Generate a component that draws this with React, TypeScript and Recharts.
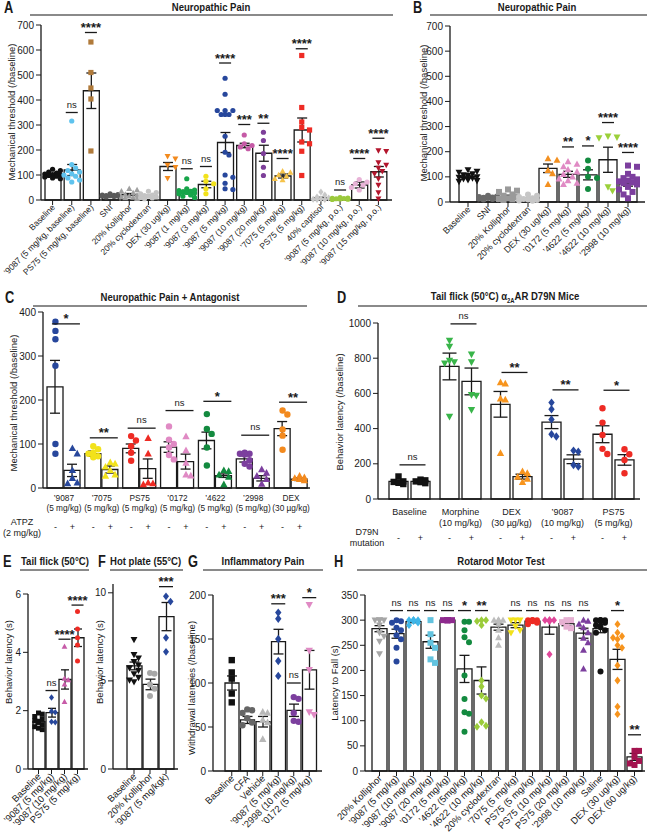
import React from 'react';
import { ComposedChart, Bar, Scatter, XAxis, YAxis, ErrorBar } from 'recharts';

const FONT = '"Liberation Sans", Arial, Helvetica, sans-serif';
const INK = '#1a1a1a';

type Mk = 'circle' | 'square' | 'up' | 'down' | 'diamond';

// ---------- A: Neuropathic Pain ----------
const aCats = ['Baseline', '’9087 (5 mg/kg, baseline)', 'PS75 (5 mg/kg, baseline)', 'SNI', '20% Kolliphor', '20% cyclodextran', 'DEX (30 ug/kg)', '’9087 (1 mg/kg)', '’9087 (3 mg/kg)', '’9087 (5 mg/kg)', '’9087 (10 mg/kg)', '’9087 (20 mg/kg)', '’7075 (5 mg/kg)', 'PS75 (5 mg/kg)', '40% captisol', '’9087 (5 mg/kg, p.o.)', '’9087 (10 mg/kg, p.o.)', '’9087 (15 mg/kg, p.o.)'];
const aMeans = [100, 120, 437, 18, 22, 16, 134, 32, 62, 230, 218, 187, 96, 280, 8, 5, 60, 113];
const aSems = [4, 22, 71, 2, 4, 3, 16, 7, 13, 40, 9, 32, 8, 48, 3, 1, 12, 21];
const aPoints = [
  [123, 118, 112, 108, 104, 102, 100, 98, 95, 92, 88, 85],
  [316, 142, 128, 118, 112, 105, 100, 95, 88, 80, 72],
  [632, 510, 448, 404, 196],
  [25, 22, 20, 19, 18, 17, 16, 15, 14, 12],
  [45, 40, 35, 28, 22, 18, 15, 12, 10, 8, 5],
  [35, 30, 25, 20, 18, 15, 12, 10, 8, 5],
  [175, 165, 140, 131, 87],
  [85, 45, 40, 38, 35, 33, 30, 28, 25, 20, 15, 10],
  [95, 75, 65, 45, 25],
  [487, 423, 358, 358, 358, 342, 342, 342, 255, 191, 180, 100, 91, 67, 45, 42],
  [260, 225, 218, 212, 205],
  [271, 238, 186, 131, 98],
  [115, 110, 100, 95, 85, 80],
  [578, 370, 312, 290, 280, 232, 225, 195, 98],
  [32, 20, 12, 8, 5, 3, 2, 2],
  [10, 8, 7, 6, 5, 4, 3, 2],
  [82, 72, 65, 60, 50, 40],
  [198, 195, 150, 140, 128, 115, 105, 85, 60, 30, 5],
];
const aSig = [null, 'ns', '****', null, null, null, null, 'ns', 'ns', '****', '***', '**', '****', '****', null, 'ns', '****', '****'];
const aSigY = [null, 350, 670, null, null, null, null, 125, 134, 548, 302, 307, 166, 605, null, 40, 166, 247];
const aColors = ['#111111', '#5fc3ee', '#b07a3a', '#5a5a5a', '#a0a0a0', '#c4c4c4', '#f28a1e', '#17a54a', '#f2e21b', '#27479c', '#c55aa6', '#7d3f99', '#f6c34a', '#ee2b24', '#c8c8c8', '#9bc93c', '#e8b3d7', '#b3152c'];
const aMarks: Mk[] = ['circle', 'circle', 'square', 'circle', 'up', 'circle', 'down', 'circle', 'circle', 'circle', 'circle', 'circle', 'up', 'square', 'diamond', 'circle', 'circle', 'down'];

// ---------- B: Neuropathic Pain ----------
const bCats = ['Baseline', 'SNI', '20% Kolliphor', '20% cyclodextran', 'DEX (30 ug/kg)', '’0172 (5 mg/kg)', '’4622 (5 mg/kg)', '’4622 (10 mg/kg)', '’2998 (10 mg/kg)'];
const bMeans = [100, 18, 22, 14, 134, 110, 108, 168, 72];
const bSems = [4, 2, 5, 2, 17, 12, 20, 50, 9];
const bPoints = [
  [128, 122, 118, 112, 108, 105, 100, 98, 95, 92, 88, 85, 82],
  [25, 22, 20, 18, 17, 16, 15, 14, 12, 10],
  [50, 45, 40, 30, 25, 20, 15, 12, 10, 8],
  [30, 25, 20, 15, 12, 10, 8, 6, 5],
  [172, 166, 125, 113, 70],
  [160, 150, 140, 128, 120, 110, 100, 92, 85, 75, 70],
  [165, 132, 100, 95, 52],
  [262, 258, 255, 60, 45],
  [145, 140, 112, 100, 95, 90, 85, 82, 78, 75, 70, 60, 50, 40, 30, 15],
];
const bSig = [null, null, null, null, null, '**', '*', '****', '****'];
const bSigY = [null, null, null, null, null, 219, 223, 316, 197];
const bColors = ['#111111', '#6a6a6a', '#9a9a9a', '#c6c6c6', '#f39020', '#e08ac4', '#138a3f', '#9bd03a', '#7c3f9e'];
const bMarks: Mk[] = ['down', 'circle', 'square', 'circle', 'up', 'up', 'circle', 'down', 'square'];

// ---------- C: Neuropathic Pain + Antagonist ----------
const cCats = ['’9087\n(5 mg/kg)', '’7075\n(5 mg/kg)', 'PS75\n(5 mg/kg)', '’0172\n(5 mg/kg)', '’4622\n(5 mg/kg)', '’2998\n(5 mg/kg)', 'DEX\n(30 µg/kg)'];
const cNegMeans = [230, 78, 90, 93, 108, 66, 135];
const cNegSems = [60, 6, 10, 12, 19, 7, 16];
const cPosMeans = [40, 42, 44, 60, 28, 22, 20];
const cPosSems = [14, 8, 22, 17, 4, 6, 3];
const cNegPoints = [
  [378, 357, 338, 278, 100, 78],
  [95, 88, 80, 78, 72, 70],
  [118, 108, 95, 80, 62],
  [140, 110, 100, 92, 75, 65],
  [168, 134, 123, 92, 51],
  [80, 78, 78, 76, 63, 55, 49],
  [176, 167, 133, 119, 87],
];
const cPosPoints = [
  [90, 78, 40, 22, 12, 10],
  [58, 55, 48, 40, 30, 27],
  [113, 78, 12, 10, 8],
  [117, 85, 57, 30, 28],
  [40, 38, 30, 25, 8],
  [42, 34, 27, 20, 9],
  [27, 24, 22, 20, 17],
];
const cSig = ['*', '**', 'ns', 'ns', '*', 'ns', '**'];
const cSigY = [373, 114, 136, 176, 197, 120, 195];
const cColors = ['#27479c', '#f2e21b', '#ee2b24', '#e08ac4', '#138a3f', '#7c3f9e', '#f38a1e'];
const cNegMarks: Mk[] = ['circle', 'circle', 'circle', 'circle', 'circle', 'circle', 'circle'];
const cPosMarks: Mk[] = ['up', 'up', 'up', 'up', 'up', 'up', 'up'];

// ---------- D: Tail flick a2AAR D79N ----------
const dCats = ['Baseline', 'Morphine\n(10 mg/kg)', 'DEX\n(30 µg/kg)', '’9087\n(10 mg/kg)', 'PS75\n(5 mg/kg)'];
const dNegMeans = [100, 753, 538, 437, 368];
const dNegSems = [8, 76, 73, 37, 48];
const dPosMeans = [100, 668, 127, 226, 222];
const dPosSems = [4, 76, 14, 25, 30];
const dNegPoints = [
  [128, 100, 97, 92, 85],
  [901, 867, 787, 778, 772, 469],
  [662, 655, 569, 564, 260],
  [548, 510, 452, 368, 355],
  [516, 434, 364, 285, 256],
];
const dPosPoints = [
  [110, 106, 100, 96, 90],
  [823, 778, 592, 588, 507],
  [156, 146, 125, 114, 95],
  [275, 269, 193, 184],
  [283, 254, 222, 146],
];
const dSig = ['ns', 'ns', '**', '**', '*'];
const dSigY = [194, 995, 719, 620, 618];
const dColors = ['#111111', '#39b54a', '#f7941d', '#27479c', '#ee2b24'];
const dMarks: Mk[] = ['square', 'down', 'up', 'diamond', 'circle'];

// ---------- E: Tail flick (50°C) ----------
const eCats = ['Baseline', '’9087 (5 mg/kg)', '’9087 (10 mg/kg)', 'PS75 (5 mg/kg)'];
const eMeans = [1.62, 1.93, 3.07, 4.5];
const eSems = [0.08, 0.15, 0.33, 0.3];
const ePoints = [
  [1.92, 1.88, 1.8, 1.72, 1.65, 1.6, 1.52, 1.45, 1.4, 1.35],
  [2.45, 1.98, 1.95, 1.62, 1.6],
  [4.2, 3.1, 3.05, 2.9, 2.3],
  [5.4, 4.8, 4.5, 4.25, 3.7],
];
const eSig = [null, 'ns', '****', '****'];
const eSigY = [null, 2.69, 4.45, 5.62];
const eColors = ['#111111', '#27479c', '#c75ba8', '#ee2b24'];
const eMarks: Mk[] = ['square', 'diamond', 'up', 'circle'];

// ---------- F: Hot plate (55°C) ----------
const fCats = ['Baseline', '20% Kolliphor', '’9087 (5 mg/kgk)'];
const fMeans = [5.85, 4.8, 8.65];
const fSems = [0.22, 0.3, 0.8];
const fPoints = [
  [7.35, 6.5, 6.3, 6.1, 5.9, 5.75, 5.6, 5.4, 5.2, 5.05, 4.95],
  [5.45, 5.4, 4.8, 4.55, 4.15],
  [9.8, 9.5, 7.45, 6.65],
];
const fSig = [null, null, '***'];
const fSigY = [null, null, 10.35];
const fColors = ['#111111', '#a8a8a8', '#27479c'];
const fMarks: Mk[] = ['down', 'circle', 'diamond'];

// ---------- G: Inflammatory Pain ----------
const gCats = ['Baseline', 'CFA', 'Vehicle', '’9087 (5 mg/kg)', '’2998 (10 mg/kg)', '’0172 (5 mg/kg)'];
const gMeans = [100, 58, 56, 147, 69, 115];
const gSems = [8, 4, 6, 14, 7, 22];
const gPoints = [
  [126, 112, 105, 88, 78],
  [70, 69, 66, 60, 55, 52],
  [67, 66, 58, 55, 36],
  [180, 173, 150, 125, 108],
  [84, 82, 66, 57, 56],
  [189, 137, 115, 67, 64],
];
const gSig = [null, null, null, '***', 'ns', '*'];
const gSigY = [null, null, null, 190, 100, 197];
const gColors = ['#111111', '#666666', '#b8b8b8', '#27479c', '#7c3f9e', '#e08ac4'];
const gMarks: Mk[] = ['square', 'circle', 'up', 'diamond', 'circle', 'down'];

// ---------- H: Rotarod Motor Test ----------
const hCats = ['20% Kolliphor', '’9087 (5 mg/kg)', '’9087 (10 mg/kg)', '’9087 (20 mg/kg)', '’0172 (5 mg/kg)', '’4622 (5mg/kg)', '’4622 (10 mg/kg)', '20% cyclodextran', '’7075 (5 mg/kg)', 'PS75 (5 mg/kg)', 'PS75 (10 mg/kg)', 'PS75 (20 mg/kg)', '’2998 (10 mg/kg)', 'Saline', 'DEX (30 ug/kg)', 'DEX (60 ug/kg)'];
const hMeans = [283, 273, 297, 257, 300, 203, 180, 286, 290, 298, 286, 293, 274, 283, 222, 28];
const hSems = [6, 9, 2, 13, 0.5, 27, 27, 6, 5, 1, 14, 4, 10, 8, 20, 7];
const hPoints = [
  [300, 300, 300, 300, 300, 290, 275, 268, 258, 233],
  [300, 298, 295, 285, 280, 270, 262, 245, 218],
  [300, 300, 300, 300, 300, 298, 295, 290],
  [300, 272, 255, 245, 222, 215],
  [300, 300, 300, 300, 300, 300, 300, 300],
  [297, 297, 280, 266, 256, 190, 143, 117, 114, 78],
  [300, 300, 298, 290, 180, 168, 150, 144, 97, 90, 88],
  [300, 300, 300, 300, 300, 300, 292, 280, 265, 250],
  [300, 300, 300, 288, 280, 275],
  [300, 300, 300, 300, 300, 298, 295, 292],
  [300, 300, 300, 300, 298, 232],
  [300, 300, 296, 287, 284],
  [300, 298, 292, 285, 275, 264, 255, 240, 203],
  [300, 300, 300, 300, 300, 298, 295, 290, 286, 280, 275, 198],
  [292, 275, 268, 265, 262, 250, 245, 210, 180, 128, 113],
  [40, 40, 28, 20, 15, 12],
];
const hSig = [null, 'ns', 'ns', 'ns', 'ns', '*', '**', null, 'ns', 'ns', 'ns', 'ns', 'ns', null, '*', '**'];
const hSigY = [null, 319, 319, 319, 319, 319, 319, null, 319, 319, 319, 319, 319, null, 319, 72];
const hColors = ['#a6a6a6', '#27479c', '#3fb6e8', '#62c3df', '#8e2a8e', '#138a3f', '#9bcc3a', '#bdbdbd', '#f2e21b', '#ee2b24', '#e0479a', '#e6b0d2', '#7c3f9e', '#111111', '#f7941d', '#a3134f'];
const hMarks: Mk[] = ['down', 'circle', 'diamond', 'square', 'square', 'circle', 'diamond', 'up', 'down', 'circle', 'diamond', 'square', 'up', 'circle', 'diamond', 'square'];

// ---------- drawing helpers ----------
const drawMark = (m: Mk, cx: number, cy: number, r: number, fill: string) => {
  switch (m) {
    case 'square':
      return <rect x={cx - r} y={cy - r} width={2 * r} height={2 * r} fill={fill} />;
    case 'up':
      return <polygon points={`${cx},${cy - r * 1.25} ${cx + r * 1.15},${cy + r * 0.85} ${cx - r * 1.15},${cy + r * 0.85}`} fill={fill} />;
    case 'down':
      return <polygon points={`${cx},${cy + r * 1.25} ${cx + r * 1.15},${cy - r * 0.85} ${cx - r * 1.15},${cy - r * 0.85}`} fill={fill} />;
    case 'diamond':
      return <polygon points={`${cx},${cy - r * 1.3} ${cx + r},${cy} ${cx},${cy + r * 1.3} ${cx - r},${cy}`} fill={fill} />;
    default:
      return <circle cx={cx} cy={cy} r={r} fill={fill} />;
  }
};

// simple beeswarm: spread points sideways so they don't sit on top of each other
const swarm = (vals: number[], ppu: number, r: number, maxDx: number) => {
  const order = vals.map((_, i) => i).sort((a, b) => vals[b] - vals[a]);
  const placed: { x: number; y: number }[] = [];
  const dx = vals.map(() => 0);
  const step = r * 1.5;
  for (const i of order) {
    const y = vals[i] * ppu;
    let best = 0;
    let bestGap = -1;
    for (let k = 0; k < 24; k++) {
      const c = k === 0 ? 0 : (k % 2 ? 1 : -1) * Math.ceil(k / 2) * step;
      if (Math.abs(c) > maxDx) continue;
      const gap = placed.length ? Math.min(...placed.map((p) => Math.hypot(p.x - c, p.y - y))) : 99;
      if (gap >= r * 1.8) {
        best = c;
        break;
      }
      if (gap > bestGap) {
        bestGap = gap;
        best = c;
      }
    }
    placed.push({ x: best, y });
    dx[i] = best;
  }
  return dx;
};

const pointShape = (r: number, sideOff: number) => (p: any) => {
  const d = p.payload;
  if (p.cx == null || p.cy == null || !d) return <g />;
  return drawMark(d.m, p.cx + d.dx + d.side * sideOff, p.cy, r, d.c);
};

const sigShape = (x0: number, x1: number) => (p: any) => {
  const d = p.payload;
  if (!d || !d.sig || p.cy == null || isNaN(p.cy)) return <g />;
  const ns = d.sig === 'ns';
  const a = p.cx + x0;
  const b = p.cx + x1;
  return (
    <g>
      <line x1={a} x2={b} y1={p.cy} y2={p.cy} stroke={INK} strokeWidth={1.3} />
      <text x={(a + b) / 2} y={ns ? p.cy - 5 : p.cy - 0.5} textAnchor="middle" fontFamily={FONT}
        fontSize={ns ? 9.5 : 13} fontWeight={ns ? 400 : 700} fill={INK}>{d.sig}</text>
    </g>
  );
};

const rotTick = (fs: number) => (p: any) => (
  <g transform={`translate(${p.x + 3},${p.y + 1})`}>
    <text textAnchor="end" transform="rotate(-45)" fontSize={fs} fontFamily={FONT} fill={INK}>{p.payload.value}</text>
  </g>
);

const pairTick = (off: number, l1: number, l2: number, l3: number, fs: number) => (p: any) => {
  const lines = String(p.payload.value).split('\n');
  return (
    <g fontFamily={FONT} fill={INK} fontSize={fs}>
      {lines.map((t, k) => (
        <text key={k} x={p.x} y={p.y + (k ? l2 : l1)} textAnchor="middle">{t}</text>
      ))}
      <text x={p.x - off} y={p.y + l3} textAnchor="middle" fontSize={9}>-</text>
      <text x={p.x + off} y={p.y + l3} textAnchor="middle" fontSize={9}>+</text>
    </g>
  );
};

const yTick = { fontSize: 10, fill: INK, fontFamily: FONT };
const axisLine = { stroke: INK, strokeWidth: 1.3 };

interface SP {
  x: number; y: number; w: number; h: number; top: number; right: number; yW: number; xH: number;
  domain: [number, number]; ticks: number[]; pad: [number, number]; bs: number; r: number; half: number; cap: number; fs: number;
  cats: string[]; means: number[]; sems: number[]; pts: number[][]; sig: (string | null)[]; sigY: (number | null)[];
  colors: string[]; marks: Mk[];
}

const SinglePanel = (p: SP) => {
  const plotH = p.h - p.top - p.xH;
  const ppu = plotH / p.domain[1];
  const rows = p.cats.map((name, i) => ({ name, mean: p.means[i], sem: p.sems[i], sig: p.sig[i], sigY: p.sigY[i] }));
  const pts = p.cats.flatMap((name, i) => {
    const dx = swarm(p.pts[i], ppu, p.r, p.bs / 2 + 0.5);
    return p.pts[i].map((y, j) => ({ name, y, dx: dx[j], side: 0, c: p.colors[i], m: p.marks[i] }));
  });
  return (
    <div style={{ position: 'absolute', left: p.x, top: p.y }}>
      <ComposedChart width={p.w} height={p.h} data={rows} margin={{ top: p.top, right: p.right, bottom: 0, left: 0 }}>
        <XAxis dataKey="name" type="category" allowDuplicatedCategory={false} interval={0} height={p.xH}
          padding={{ left: p.pad[0], right: p.pad[1] }} axisLine={axisLine} tickLine={{ stroke: INK }} tickSize={5}
          tick={rotTick(p.fs)} />
        <YAxis type="number" domain={p.domain} ticks={p.ticks} width={p.yW} interval={0} tick={yTick}
          axisLine={axisLine} tickLine={{ stroke: INK }} tickSize={5} />
        <Bar dataKey="mean" fill="#ffffff" stroke={INK} strokeWidth={1.3} barSize={p.bs} isAnimationActive={false}>
          <ErrorBar dataKey="sem" width={p.cap} stroke={INK} strokeWidth={1.3} />
        </Bar>
        <Scatter data={pts} dataKey="y" shape={pointShape(p.r, 0)} isAnimationActive={false} />
        <Scatter dataKey="sigY" shape={sigShape(-p.half, p.half)} isAnimationActive={false} />
      </ComposedChart>
    </div>
  );
};

interface PP {
  x: number; y: number; w: number; h: number; top: number; right: number; yW: number; xH: number;
  domain: [number, number]; ticks: number[]; pad: [number, number]; bs: number; gap: number; r: number; cap: number;
  sigL: number; sigR: number; rows3: [number, number, number]; fs: number;
  cats: string[]; negMeans: number[]; negSems: number[]; posMeans: number[]; posSems: number[];
  negPts: number[][]; posPts: number[][]; sig: string[]; sigY: number[];
  colors: string[]; negMarks: Mk[]; posMarks: Mk[];
}

const PairPanel = (p: PP) => {
  const plotH = p.h - p.top - p.xH;
  const ppu = plotH / p.domain[1];
  const off = (p.bs + p.gap) / 2;
  const rows = p.cats.map((name, i) => ({
    name, neg: p.negMeans[i], negSem: p.negSems[i], pos: p.posMeans[i], posSem: p.posSems[i], sig: p.sig[i], sigY: p.sigY[i],
  }));
  const pts = p.cats.flatMap((name, i) => {
    const dn = swarm(p.negPts[i], ppu, p.r, p.bs / 2);
    const dp = swarm(p.posPts[i], ppu, p.r, p.bs / 2);
    return [
      ...p.negPts[i].map((y, j) => ({ name, y, dx: dn[j], side: -1, c: p.colors[i], m: p.negMarks[i] })),
      ...p.posPts[i].map((y, j) => ({ name, y, dx: dp[j], side: 1, c: p.colors[i], m: p.posMarks[i] })),
    ];
  });
  return (
    <div style={{ position: 'absolute', left: p.x, top: p.y }}>
      <ComposedChart width={p.w} height={p.h} data={rows} barGap={p.gap}
        margin={{ top: p.top, right: p.right, bottom: 0, left: 0 }}>
        <XAxis dataKey="name" type="category" allowDuplicatedCategory={false} interval={0} height={p.xH}
          padding={{ left: p.pad[0], right: p.pad[1] }} axisLine={axisLine} tickLine={false} tickSize={0} tickMargin={0}
          tick={pairTick(off, p.rows3[0], p.rows3[1], p.rows3[2], p.fs)} />
        <YAxis type="number" domain={p.domain} ticks={p.ticks} width={p.yW} interval={0} tick={yTick}
          axisLine={axisLine} tickLine={{ stroke: INK }} tickSize={5} />
        <Bar dataKey="neg" fill="#ffffff" stroke={INK} strokeWidth={1.3} barSize={p.bs} isAnimationActive={false}>
          <ErrorBar dataKey="negSem" width={p.cap} stroke={INK} strokeWidth={1.3} />
        </Bar>
        <Bar dataKey="pos" fill="#ffffff" stroke={INK} strokeWidth={1.3} barSize={p.bs} isAnimationActive={false}>
          <ErrorBar dataKey="posSem" width={p.cap} stroke={INK} strokeWidth={1.3} />
        </Bar>
        <Scatter data={pts} dataKey="y" shape={pointShape(p.r, off)} isAnimationActive={false} />
        <Scatter dataKey="sigY" shape={sigShape(p.sigL, p.sigR)} isAnimationActive={false} />
      </ComposedChart>
    </div>
  );
};

// condensed bold look for panel letters and titles
const Letter = ({ x, y, t }: { x: number; y: number; t: string }) => (
  <div style={{
    position: 'absolute', left: x, top: y, fontFamily: FONT, fontWeight: 700, fontSize: 16, lineHeight: '16px', color: INK,
    transform: 'scaleX(0.8)', transformOrigin: 'left center',
  }}>{t}</div>
);

const Title = ({ cx, y, children, anchor = 'middle' }: { cx: number; y: number; children: React.ReactNode; anchor?: string }) => (
  <div style={{
    position: 'absolute', left: cx, top: y,
    transform: anchor === 'middle' ? 'translate(-50%,-50%) scaleX(0.83)' : 'translate(0,-50%) scaleX(0.83)',
    transformOrigin: anchor === 'middle' ? 'center center' : 'left center',
    fontFamily: FONT, fontWeight: 700, fontSize: 11.5, whiteSpace: 'nowrap', color: INK,
  }}>{children}</div>
);

const Rule = ({ x1, x2, y }: { x1: number; x2: number; y: number }) => (
  <div style={{ position: 'absolute', left: x1, top: y, width: x2 - x1, height: 1.5, background: '#8a8a8a' }} />
);

const YLabel = ({ x, y, t }: { x: number; y: number; t: string }) => (
  <div style={{
    position: 'absolute', left: x, top: y, transform: 'translate(-50%,-50%) rotate(-90deg)', whiteSpace: 'nowrap',
    fontFamily: FONT, fontSize: 9.5, color: INK,
  }}>{t}</div>
);

const Note = ({ x, y, t }: { x: number; y: number; t: string }) => (
  <div style={{ position: 'absolute', left: x, top: y, transform: 'translate(-50%,-50%)', whiteSpace: 'nowrap', fontFamily: FONT, fontSize: 9, color: INK }}>{t}</div>
);

export default function App() {
  return (
    <div style={{ position: 'absolute', left: 0, top: 0, width: 651, height: 834, background: '#ffffff', overflow: 'hidden' }}>
      <SinglePanel x={0} y={0} w={400} h={300} top={25} right={8} yW={41} xH={100} domain={[0, 700]}
        ticks={[0, 100, 200, 300, 400, 500, 600, 700]} pad={[2, 4]} bs={16} r={2.6} half={6} cap={5} fs={8.5}
        cats={aCats} means={aMeans} sems={aSems} pts={aPoints} sig={aSig} sigY={aSigY} colors={aColors} marks={aMarks} />
      <SinglePanel x={420} y={0} w={231} h={300} top={26} right={6} yW={30} xH={98} domain={[0, 700]}
        ticks={[0, 100, 200, 300, 400, 500, 600, 700]} pad={[8, 7]} bs={18} r={3} half={6} cap={5} fs={9}
        cats={bCats} means={bMeans} sems={bSems} pts={bPoints} sig={bSig} sigY={bSigY} colors={bColors} marks={bMarks} />
      <PairPanel x={0} y={300} w={320} h={240} top={12} right={10} yW={43} xH={52} domain={[0, 400]}
        ticks={[0, 100, 200, 300, 400]} pad={[2, 0]} bs={16} gap={1} r={3.2} cap={5} sigL={-12} sigR={16} rows3={[13, 23, 42]} fs={8.3}
        cats={cCats} negMeans={cNegMeans} negSems={cNegSems} posMeans={cPosMeans} posSems={cPosSems}
        negPts={cNegPoints} posPts={cPosPoints} sig={cSig} sigY={cSigY} colors={cColors} negMarks={cNegMarks} posMarks={cPosMarks} />
      <PairPanel x={330} y={300} w={321} h={250} top={23} right={11} yW={48} xH={51} domain={[0, 1000]}
        ticks={[0, 200, 400, 600, 800, 1000]} pad={[6, 1]} bs={19} gap={3} r={3.2} cap={7} sigL={-10} sigR={16} rows3={[16, 27, 42]} fs={9}
        cats={dCats} negMeans={dNegMeans} negSems={dNegSems} posMeans={dPosMeans} posSems={dPosSems}
        negPts={dNegPoints} posPts={dPosPoints} sig={dSig} sigY={dSigY} colors={dColors} negMarks={dMarks} posMarks={dMarks} />
      <SinglePanel x={0} y={580} w={90} h={254} top={14} right={2} yW={28} xH={65} domain={[0, 6]}
        ticks={[0, 2, 4, 6]} pad={[4, 4]} bs={12} r={2.5} half={6} cap={4} fs={9.5}
        cats={eCats} means={eMeans} sems={eSems} pts={ePoints} sig={eSig} sigY={eSigY} colors={eColors} marks={eMarks} />
      <SinglePanel x={85} y={570} w={100} h={264} top={14} right={7} yW={28} xH={65} domain={[0, 10.5]}
        ticks={[0, 5, 10]} pad={[13, 4]} bs={15} r={3} half={7} cap={5} fs={9.5}
        cats={fCats} means={fMeans} sems={fSems} pts={fPoints} sig={fSig} sigY={fSigY} colors={fColors} marks={fMarks} />
      <SinglePanel x={185} y={580} w={140} h={254} top={15} right={3} yW={28} xH={63} domain={[0, 200]}
        ticks={[0, 50, 100, 150, 200]} pad={[11, 5]} bs={14} r={3.2} half={7} cap={5} fs={9.5}
        cats={gCats} means={gMeans} sems={gSems} pts={gPoints} sig={gSig} sigY={gSigY} colors={gColors} marks={gMarks} />
      <SinglePanel x={330} y={580} w={321} h={254} top={15} right={6} yW={35} xH={63} domain={[0, 350]}
        ticks={[0, 50, 100, 150, 200, 250, 300, 350]} pad={[6, 2]} bs={15} r={3} half={6.5} cap={5} fs={9.5}
        cats={hCats} means={hMeans} sems={hSems} pts={hPoints} sig={hSig} sigY={hSigY} colors={hColors} marks={hMarks} />

      <Letter x={4} y={0} t="A" />
      <Title cx={211} y={7}>Neuropathic Pain</Title>
      <Rule x1={30} x2={393} y={14} />
      <YLabel x={11} y={112} t="Mechanical threshold (/baseline)" />

      <Letter x={413} y={0} t="B" />
      <Title cx={537} y={7}>Neuropathic Pain</Title>
      <Rule x1={430} x2={647} y={14} />
      <YLabel x={423} y={113} t="Mechanical threshold (/baseline)" />

      <Letter x={5} y={290} t="C" />
      <Title cx={170} y={297}>Neuropathic Pain + Antagonist</Title>
      <Rule x1={33} x2={307} y={305} />
      <YLabel x={13} y={403} t="Mechanical threshold (/baseline)" />
      <Note x={22} y={522} t="ATPZ" />
      <Note x={22} y={533} t="(2 mg/kg)" />

      <Letter x={337} y={290} t="D" />
      <Title cx={505} y={297}>
        Tail flick (50°C) α<sub style={{ fontSize: 7, verticalAlign: 'sub' }}>2A</sub>AR D79N Mice
      </Title>
      <Rule x1={358} x2={647} y={305} />
      <YLabel x={339} y={412} t="Behavior latency (/baseline)" />
      <Note x={367} y={532} t="D79N" />
      <Note x={367} y={543} t="mutation" />

      <Letter x={3} y={554} t="E" />
      <Title cx={21} y={561} anchor="start">Tail flick (50°C)</Title>
      <Rule x1={20} x2={89} y={569} />
      <YLabel x={8} y={662} t="Behavior latency (s)" />

      <Letter x={98} y={554} t="F" />
      <Title cx={110} y={561} anchor="start">Hot plate (55°C)</Title>
      <Rule x1={110} x2={183} y={569} />
      <YLabel x={99} y={662} t="Behavior latency (s)" />

      <Letter x={188} y={554} t="G" />
      <Title cx={263} y={561}>Inflammatory Pain</Title>
      <Rule x1={203} x2={323} y={569} />
      <YLabel x={191} y={688} t="Withdrawal latencies (/baseline)" />

      <Letter x={334} y={554} t="H" />
      <Title cx={501} y={561}>Rotarod Motor Test</Title>
      <Rule x1={357} x2={647} y={569} />
      <YLabel x={334} y={683} t="Latency to Fall (s)" />
    </div>
  );
}
